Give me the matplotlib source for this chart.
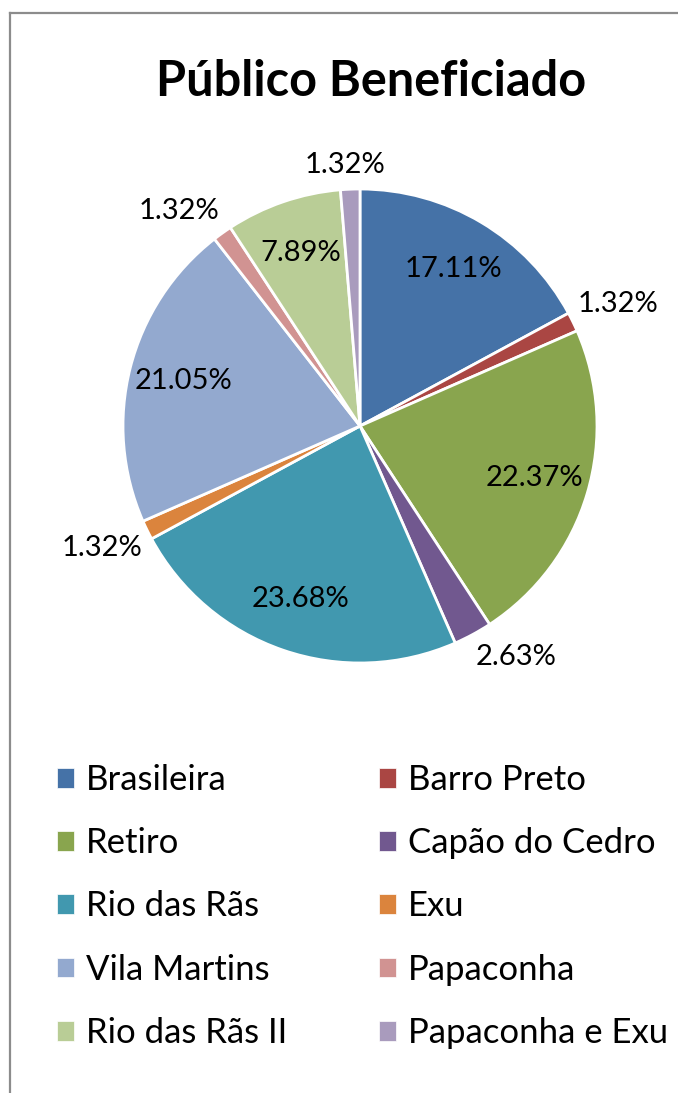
import matplotlib
matplotlib.use("Agg")
import matplotlib.pyplot as plt
from matplotlib.lines import Line2D
import numpy as np

categories = ["Brasileira", "Barro Preto", "Retiro", "Capão do Cedro", "Rio das Rãs",
              "Exu", "Vila Martins", "Papaconha", "Rio das Rãs II", "Papaconha e Exu"]
values = [13, 1, 17, 2, 18, 1, 16, 1, 6, 1]
colors = ["#4572A7", "#AA4643", "#89A54E", "#71588F", "#4198AF",
          "#DB843D", "#93A9CF", "#D19392", "#B9CD96", "#A99BBD"]
title = "Público Beneficiado"

plt.rcParams['font.family'] = ['Lato', 'DejaVu Sans']

W, H = 678, 1093
fig = plt.figure(figsize=(W / 100, H / 100), dpi=100)

cx, cy, r = 360, 426, 237
ax = fig.add_axes([(cx - r) / W, (H - cy - r) / H, 2 * r / W, 2 * r / H])
wedges, _ = ax.pie(values, colors=colors, startangle=90, counterclock=False,
                   radius=1.0, wedgeprops=dict(edgecolor="white", linewidth=2))
ax.set_xlim(-1, 1)
ax.set_ylim(-1, 1)
ax.set_aspect("equal")
ax.axis("off")

label_fs = 21
total = sum(values)
renderer = fig.canvas.get_renderer()
for w, v in zip(wedges, values):
    pct = 100.0 * v / total
    ang = np.deg2rad((w.theta1 + w.theta2) / 2)
    c, s = np.cos(ang), np.sin(ang)
    txt = f"{pct:.2f}%"
    if pct > 5:
        ax.text(0.77 * c, 0.77 * s, txt, ha="center", va="center",
                fontsize=label_fs, color="black")
    else:
        t = ax.annotate(txt, xy=(c, s), xytext=(0, 0), textcoords="offset pixels",
                        ha="center", va="center", fontsize=label_fs, color="black",
                        annotation_clip=False)
        bb = t.get_window_extent(renderer)
        hw = bb.width / 2
        hh = 14
        dx = hw * np.clip(3 * c, -1, 1) + 5 * c
        dy = hh * np.clip(3 * s, -1, 1) + 10 * s
        t.set_position((dx, dy))

fig.text(371 / W, 1 - 82 / H, title, ha="center", va="center",
         fontsize=35, fontweight="bold")

left_idx = [0, 2, 4, 6, 8]
right_idx = [1, 3, 5, 7, 9]
common = dict(frameon=False, fontsize=25, handlelength=0.5, handleheight=0.5,
              handletextpad=0.33, labelspacing=0.9, borderaxespad=0, borderpad=0,
              loc="upper left")
leg1 = fig.legend([wedges[i] for i in left_idx], [categories[i] for i in left_idx],
                  bbox_to_anchor=(57 / W, 1 - 764 / H), **common)
leg2 = fig.legend([wedges[i] for i in right_idx], [categories[i] for i in right_idx],
                  bbox_to_anchor=(379 / W, 1 - 764 / H), **common)
for leg in (leg1, leg2):
    for h in leg.legend_handles:
        h.set_edgecolor("white")
        h.set_linewidth(0.5)

# chart border (left and top visible)
fig.add_artist(Line2D([10 / W, 10 / W], [0, 1 - 13 / H], transform=fig.transFigure,
                      color="#8c8c8c", lw=1.6))
fig.add_artist(Line2D([10 / W, 1], [1 - 13 / H, 1 - 13 / H], transform=fig.transFigure,
                      color="#8c8c8c", lw=1.6))

fig.savefig("out.png", dpi=100)
